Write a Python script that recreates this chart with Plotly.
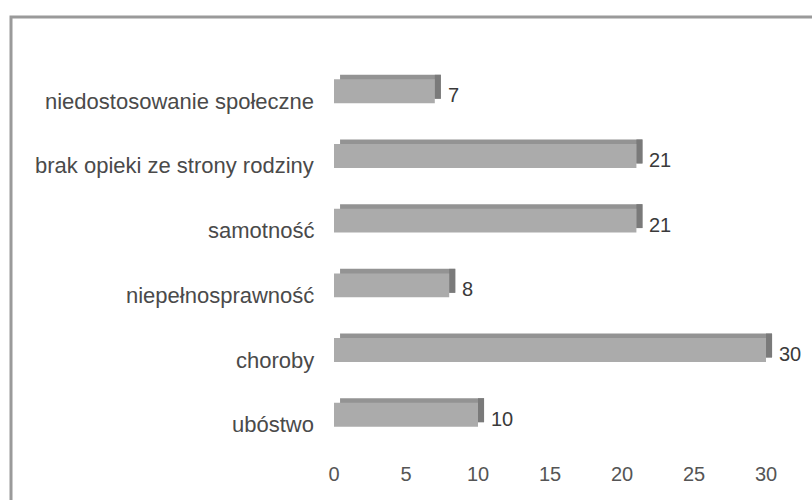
import plotly.graph_objects as go

# Data (bottom to top)
categories = ["ubóstwo", "choroby", "niepełnosprawność", "samotność",
              "brak opieki ze strony rodziny", "niedostosowanie społeczne"]
values = [10, 30, 8, 21, 21, 7]
x_ticks = [0, 5, 10, 15, 20, 25, 30]

FONT = "Liberation Sans, Arial, sans-serif"
depth_x = 0.42      # 3D depth in x units
depth_y = 0.07      # 3D depth in category units
bar_w = 0.37
n = len(values)

fig = go.Figure()
# back face (top of the 3D bar)
fig.add_trace(go.Bar(
    y=categories, x=values, base=[depth_x] * n, orientation="h",
    width=bar_w, offset=-bar_w / 2 + depth_y,
    marker=dict(color="#939393", line=dict(width=0)),
    hoverinfo="skip", showlegend=False))
# side face
fig.add_trace(go.Bar(
    y=categories, x=[depth_x] * n, base=values, orientation="h",
    width=bar_w, offset=-bar_w / 2 + depth_y,
    marker=dict(color="#7a7a7a", line=dict(width=0)),
    hoverinfo="skip", showlegend=False))
# front face
fig.add_trace(go.Bar(
    y=categories, x=values, orientation="h",
    width=bar_w, offset=-bar_w / 2,
    marker=dict(color="#ababab", line=dict(width=0)),
    showlegend=False))

annotations = []
for c, v in zip(categories, values):
    annotations.append(dict(x=v, y=c, xref="x", yref="y", text=str(v),
                            showarrow=False, xanchor="left", xshift=11, yshift=-4,
                            font=dict(family=FONT, size=20, color="#3a3a3a")))
    annotations.append(dict(x=0, y=c, xref="paper", yref="y", text=c,
                            showarrow=False, xanchor="right", xshift=-18, yshift=-10,
                            font=dict(family=FONT, size=22, color="#4a4a4a")))

L, R, T, B = 334, 12, 46, 40
W, H = 812, 500
pw, ph = W - L - R, H - T - B

def px_to_paper_x(px):
    return (px - L) / pw

def py_to_paper_y(py):
    return (H - B - py) / ph

fig.update_layout(
    width=W, height=H,
    margin=dict(l=L, r=R, t=T, b=B),
    paper_bgcolor="white", plot_bgcolor="white",
    barmode="overlay",
    annotations=annotations,
    shapes=[dict(type="rect", xref="paper", yref="paper",
                 x0=px_to_paper_x(11), x1=px_to_paper_x(830),
                 y0=py_to_paper_y(520), y1=py_to_paper_y(17),
                 line=dict(color="#9a9a9a", width=3))],
    xaxis=dict(range=[0, 32.36], tickvals=x_ticks, showgrid=False, zeroline=False,
               showline=False, ticks="",
               tickfont=dict(family=FONT, size=20, color="#555555")),
    yaxis=dict(type="category", categoryorder="array", categoryarray=categories,
               range=[-0.7, 5.7], showticklabels=False, showgrid=False,
               zeroline=False, showline=False),
)

fig.write_html("out.html", config={"displayModeBar": False},
               post_script="document.body.style.margin='0';document.body.style.overflow='hidden';")
